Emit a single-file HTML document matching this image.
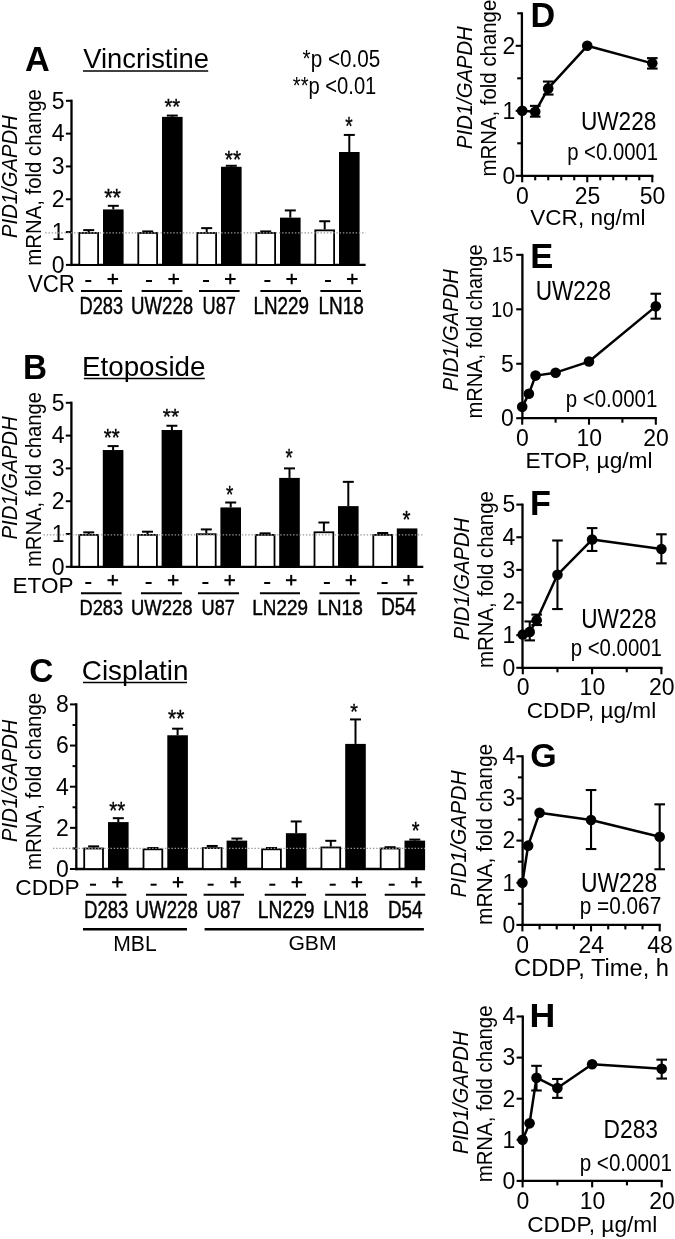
<!DOCTYPE html>
<html><head><meta charset="utf-8"><style>
html,body{margin:0;padding:0;background:#fff;}
svg{display:block;will-change:transform;}
text{font-family:"Liberation Sans",sans-serif;fill:#000;}
</style></head><body>
<svg width="675" height="1239" viewBox="0 0 675 1239">
<rect width="675" height="1239" fill="#fff"/>
<line x1="71.50" y1="99.65" x2="71.50" y2="266.05" stroke="#000" stroke-width="2.3"/>
<line x1="70.35" y1="264.90" x2="365.60" y2="264.90" stroke="#000" stroke-width="2.3"/>
<line x1="65.90" y1="264.90" x2="71.50" y2="264.90" stroke="#000" stroke-width="2.0"/>
<line x1="65.90" y1="232.08" x2="71.50" y2="232.08" stroke="#000" stroke-width="2.0"/>
<line x1="65.90" y1="199.26" x2="71.50" y2="199.26" stroke="#000" stroke-width="2.0"/>
<line x1="65.90" y1="166.44" x2="71.50" y2="166.44" stroke="#000" stroke-width="2.0"/>
<line x1="65.90" y1="133.62" x2="71.50" y2="133.62" stroke="#000" stroke-width="2.0"/>
<line x1="65.90" y1="100.80" x2="71.50" y2="100.80" stroke="#000" stroke-width="2.0"/>
<text x="64.60" y="272.70" font-size="23.00" text-anchor="end">0</text>
<text x="64.60" y="239.88" font-size="23.00" text-anchor="end">1</text>
<text x="64.60" y="207.06" font-size="23.00" text-anchor="end">2</text>
<text x="64.60" y="174.24" font-size="23.00" text-anchor="end">3</text>
<text x="64.60" y="141.42" font-size="23.00" text-anchor="end">4</text>
<text x="64.60" y="108.60" font-size="23.00" text-anchor="end">5</text>
<line x1="88.70" y1="230.11" x2="88.70" y2="232.08" stroke="#000" stroke-width="2.0"/>
<line x1="83.20" y1="230.11" x2="94.20" y2="230.11" stroke="#000" stroke-width="2.0"/>
<rect x="79.30" y="232.98" width="18.80" height="31.92" fill="#fff" stroke="#000" stroke-width="1.8"/>
<line x1="113.30" y1="205.82" x2="113.30" y2="209.43" stroke="#000" stroke-width="2.0"/>
<line x1="107.80" y1="205.82" x2="118.80" y2="205.82" stroke="#000" stroke-width="2.0"/>
<rect x="103.00" y="209.43" width="20.60" height="55.47" fill="#000"/>
<line x1="147.70" y1="231.42" x2="147.70" y2="232.08" stroke="#000" stroke-width="2.0"/>
<line x1="142.20" y1="231.42" x2="153.20" y2="231.42" stroke="#000" stroke-width="2.0"/>
<rect x="138.30" y="232.98" width="18.80" height="31.92" fill="#fff" stroke="#000" stroke-width="1.8"/>
<line x1="172.30" y1="115.57" x2="172.30" y2="116.88" stroke="#000" stroke-width="2.0"/>
<line x1="166.80" y1="115.57" x2="177.80" y2="115.57" stroke="#000" stroke-width="2.0"/>
<rect x="162.00" y="116.88" width="20.60" height="148.02" fill="#000"/>
<line x1="206.70" y1="228.14" x2="206.70" y2="232.08" stroke="#000" stroke-width="2.0"/>
<line x1="201.20" y1="228.14" x2="212.20" y2="228.14" stroke="#000" stroke-width="2.0"/>
<rect x="197.30" y="232.98" width="18.80" height="31.92" fill="#fff" stroke="#000" stroke-width="1.8"/>
<line x1="231.30" y1="165.78" x2="231.30" y2="166.77" stroke="#000" stroke-width="2.0"/>
<line x1="225.80" y1="165.78" x2="236.80" y2="165.78" stroke="#000" stroke-width="2.0"/>
<rect x="221.00" y="166.77" width="20.60" height="98.13" fill="#000"/>
<line x1="265.70" y1="231.42" x2="265.70" y2="232.08" stroke="#000" stroke-width="2.0"/>
<line x1="260.20" y1="231.42" x2="271.20" y2="231.42" stroke="#000" stroke-width="2.0"/>
<rect x="256.30" y="232.98" width="18.80" height="31.92" fill="#fff" stroke="#000" stroke-width="1.8"/>
<line x1="290.30" y1="210.42" x2="290.30" y2="217.64" stroke="#000" stroke-width="2.0"/>
<line x1="284.80" y1="210.42" x2="295.80" y2="210.42" stroke="#000" stroke-width="2.0"/>
<rect x="280.00" y="217.64" width="20.60" height="47.26" fill="#000"/>
<line x1="324.70" y1="221.25" x2="324.70" y2="229.45" stroke="#000" stroke-width="2.0"/>
<line x1="319.20" y1="221.25" x2="330.20" y2="221.25" stroke="#000" stroke-width="2.0"/>
<rect x="315.30" y="230.35" width="18.80" height="34.55" fill="#fff" stroke="#000" stroke-width="1.8"/>
<line x1="349.30" y1="134.93" x2="349.30" y2="152.00" stroke="#000" stroke-width="2.0"/>
<line x1="343.80" y1="134.93" x2="354.80" y2="134.93" stroke="#000" stroke-width="2.0"/>
<rect x="339.00" y="152.00" width="20.60" height="112.90" fill="#000"/>
<line x1="45.30" y1="232.88" x2="365.60" y2="232.88" stroke="#999" stroke-width="1.3" stroke-dasharray="1.4,1.8"/>
<rect x="85.30" y="280.00" width="6.00" height="2.00" fill="#000"/>
<rect x="146.00" y="280.00" width="6.00" height="2.00" fill="#000"/>
<rect x="203.00" y="280.00" width="6.00" height="2.00" fill="#000"/>
<rect x="264.40" y="280.00" width="6.00" height="2.00" fill="#000"/>
<rect x="325.00" y="280.00" width="6.00" height="2.00" fill="#000"/>
<rect x="107.50" y="278.00" width="10.60" height="2.00" fill="#000"/>
<rect x="111.80" y="273.70" width="2.00" height="10.60" fill="#000"/>
<rect x="168.40" y="278.00" width="10.60" height="2.00" fill="#000"/>
<rect x="172.70" y="273.70" width="2.00" height="10.60" fill="#000"/>
<rect x="225.00" y="278.00" width="10.60" height="2.00" fill="#000"/>
<rect x="229.30" y="273.70" width="2.00" height="10.60" fill="#000"/>
<rect x="286.40" y="278.00" width="10.60" height="2.00" fill="#000"/>
<rect x="290.70" y="273.70" width="2.00" height="10.60" fill="#000"/>
<rect x="347.00" y="278.00" width="10.60" height="2.00" fill="#000"/>
<rect x="351.30" y="273.70" width="2.00" height="10.60" fill="#000"/>
<line x1="71.40" y1="401.65" x2="71.40" y2="567.95" stroke="#000" stroke-width="2.3"/>
<line x1="70.25" y1="566.80" x2="423.30" y2="566.80" stroke="#000" stroke-width="2.3"/>
<line x1="65.80" y1="566.80" x2="71.40" y2="566.80" stroke="#000" stroke-width="2.0"/>
<line x1="65.80" y1="534.00" x2="71.40" y2="534.00" stroke="#000" stroke-width="2.0"/>
<line x1="65.80" y1="501.20" x2="71.40" y2="501.20" stroke="#000" stroke-width="2.0"/>
<line x1="65.80" y1="468.40" x2="71.40" y2="468.40" stroke="#000" stroke-width="2.0"/>
<line x1="65.80" y1="435.60" x2="71.40" y2="435.60" stroke="#000" stroke-width="2.0"/>
<line x1="65.80" y1="402.80" x2="71.40" y2="402.80" stroke="#000" stroke-width="2.0"/>
<text x="64.60" y="574.60" font-size="23.00" text-anchor="end">0</text>
<text x="64.60" y="541.80" font-size="23.00" text-anchor="end">1</text>
<text x="64.60" y="509.00" font-size="23.00" text-anchor="end">2</text>
<text x="64.60" y="476.20" font-size="23.00" text-anchor="end">3</text>
<text x="64.60" y="443.40" font-size="23.00" text-anchor="end">4</text>
<text x="64.60" y="410.60" font-size="23.00" text-anchor="end">5</text>
<line x1="88.70" y1="532.36" x2="88.70" y2="534.00" stroke="#000" stroke-width="2.0"/>
<line x1="83.20" y1="532.36" x2="94.20" y2="532.36" stroke="#000" stroke-width="2.0"/>
<rect x="79.30" y="534.90" width="18.80" height="31.90" fill="#fff" stroke="#000" stroke-width="1.8"/>
<line x1="113.10" y1="446.10" x2="113.10" y2="450.03" stroke="#000" stroke-width="2.0"/>
<line x1="107.60" y1="446.10" x2="118.60" y2="446.10" stroke="#000" stroke-width="2.0"/>
<rect x="102.80" y="450.03" width="20.60" height="116.77" fill="#000"/>
<line x1="147.50" y1="531.70" x2="147.50" y2="534.00" stroke="#000" stroke-width="2.0"/>
<line x1="142.00" y1="531.70" x2="153.00" y2="531.70" stroke="#000" stroke-width="2.0"/>
<rect x="138.10" y="534.90" width="18.80" height="31.90" fill="#fff" stroke="#000" stroke-width="1.8"/>
<line x1="171.90" y1="425.76" x2="171.90" y2="430.02" stroke="#000" stroke-width="2.0"/>
<line x1="166.40" y1="425.76" x2="177.40" y2="425.76" stroke="#000" stroke-width="2.0"/>
<rect x="161.60" y="430.02" width="20.60" height="136.78" fill="#000"/>
<line x1="206.30" y1="529.41" x2="206.30" y2="533.34" stroke="#000" stroke-width="2.0"/>
<line x1="200.80" y1="529.41" x2="211.80" y2="529.41" stroke="#000" stroke-width="2.0"/>
<rect x="196.90" y="534.24" width="18.80" height="32.56" fill="#fff" stroke="#000" stroke-width="1.8"/>
<line x1="230.70" y1="502.51" x2="230.70" y2="507.43" stroke="#000" stroke-width="2.0"/>
<line x1="225.20" y1="502.51" x2="236.20" y2="502.51" stroke="#000" stroke-width="2.0"/>
<rect x="220.40" y="507.43" width="20.60" height="59.37" fill="#000"/>
<line x1="265.10" y1="533.34" x2="265.10" y2="534.00" stroke="#000" stroke-width="2.0"/>
<line x1="259.60" y1="533.34" x2="270.60" y2="533.34" stroke="#000" stroke-width="2.0"/>
<rect x="255.70" y="534.90" width="18.80" height="31.90" fill="#fff" stroke="#000" stroke-width="1.8"/>
<line x1="289.50" y1="468.40" x2="289.50" y2="477.91" stroke="#000" stroke-width="2.0"/>
<line x1="284.00" y1="468.40" x2="295.00" y2="468.40" stroke="#000" stroke-width="2.0"/>
<rect x="279.20" y="477.91" width="20.60" height="88.89" fill="#000"/>
<line x1="323.90" y1="522.52" x2="323.90" y2="531.38" stroke="#000" stroke-width="2.0"/>
<line x1="318.40" y1="522.52" x2="329.40" y2="522.52" stroke="#000" stroke-width="2.0"/>
<rect x="314.50" y="532.28" width="18.80" height="34.52" fill="#fff" stroke="#000" stroke-width="1.8"/>
<line x1="348.30" y1="481.85" x2="348.30" y2="506.12" stroke="#000" stroke-width="2.0"/>
<line x1="342.80" y1="481.85" x2="353.80" y2="481.85" stroke="#000" stroke-width="2.0"/>
<rect x="338.00" y="506.12" width="20.60" height="60.68" fill="#000"/>
<line x1="382.70" y1="533.02" x2="382.70" y2="534.00" stroke="#000" stroke-width="2.0"/>
<line x1="377.20" y1="533.02" x2="388.20" y2="533.02" stroke="#000" stroke-width="2.0"/>
<rect x="373.30" y="534.90" width="18.80" height="31.90" fill="#fff" stroke="#000" stroke-width="1.8"/>
<rect x="396.80" y="528.42" width="20.60" height="38.38" fill="#000"/>
<line x1="43.50" y1="534.80" x2="423.30" y2="534.80" stroke="#999" stroke-width="1.3" stroke-dasharray="1.4,1.8"/>
<rect x="85.30" y="582.00" width="6.00" height="2.00" fill="#000"/>
<rect x="145.60" y="582.00" width="6.00" height="2.00" fill="#000"/>
<rect x="202.40" y="582.00" width="6.00" height="2.00" fill="#000"/>
<rect x="264.20" y="582.00" width="6.00" height="2.00" fill="#000"/>
<rect x="323.90" y="582.00" width="6.00" height="2.00" fill="#000"/>
<rect x="381.60" y="582.00" width="6.00" height="2.00" fill="#000"/>
<rect x="107.50" y="579.20" width="10.60" height="2.00" fill="#000"/>
<rect x="111.80" y="574.90" width="2.00" height="10.60" fill="#000"/>
<rect x="167.90" y="579.20" width="10.60" height="2.00" fill="#000"/>
<rect x="172.20" y="574.90" width="2.00" height="10.60" fill="#000"/>
<rect x="224.40" y="579.20" width="10.60" height="2.00" fill="#000"/>
<rect x="228.70" y="574.90" width="2.00" height="10.60" fill="#000"/>
<rect x="285.90" y="579.20" width="10.60" height="2.00" fill="#000"/>
<rect x="290.20" y="574.90" width="2.00" height="10.60" fill="#000"/>
<rect x="345.60" y="579.20" width="10.60" height="2.00" fill="#000"/>
<rect x="349.90" y="574.90" width="2.00" height="10.60" fill="#000"/>
<rect x="403.20" y="579.20" width="10.60" height="2.00" fill="#000"/>
<rect x="407.50" y="574.90" width="2.00" height="10.60" fill="#000"/>
<line x1="76.30" y1="703.25" x2="76.30" y2="870.15" stroke="#000" stroke-width="2.3"/>
<line x1="75.15" y1="869.00" x2="425.00" y2="869.00" stroke="#000" stroke-width="2.3"/>
<line x1="70.00" y1="869.00" x2="76.30" y2="869.00" stroke="#000" stroke-width="2.0"/>
<line x1="70.00" y1="827.85" x2="76.30" y2="827.85" stroke="#000" stroke-width="2.0"/>
<line x1="70.00" y1="786.70" x2="76.30" y2="786.70" stroke="#000" stroke-width="2.0"/>
<line x1="70.00" y1="745.55" x2="76.30" y2="745.55" stroke="#000" stroke-width="2.0"/>
<line x1="70.00" y1="704.40" x2="76.30" y2="704.40" stroke="#000" stroke-width="2.0"/>
<line x1="72.52" y1="848.42" x2="76.30" y2="848.42" stroke="#000" stroke-width="2.0"/>
<line x1="72.52" y1="807.27" x2="76.30" y2="807.27" stroke="#000" stroke-width="2.0"/>
<line x1="72.52" y1="766.12" x2="76.30" y2="766.12" stroke="#000" stroke-width="2.0"/>
<line x1="72.52" y1="724.98" x2="76.30" y2="724.98" stroke="#000" stroke-width="2.0"/>
<text x="68.80" y="876.80" font-size="23.00" text-anchor="end">0</text>
<text x="68.80" y="835.65" font-size="23.00" text-anchor="end">2</text>
<text x="68.80" y="794.50" font-size="23.00" text-anchor="end">4</text>
<text x="68.80" y="753.35" font-size="23.00" text-anchor="end">6</text>
<text x="68.80" y="712.20" font-size="23.00" text-anchor="end">8</text>
<line x1="93.60" y1="846.37" x2="93.60" y2="847.60" stroke="#000" stroke-width="2.0"/>
<line x1="88.10" y1="846.37" x2="99.10" y2="846.37" stroke="#000" stroke-width="2.0"/>
<rect x="84.20" y="848.50" width="18.80" height="20.50" fill="#fff" stroke="#000" stroke-width="1.8"/>
<line x1="118.30" y1="818.18" x2="118.30" y2="822.09" stroke="#000" stroke-width="2.0"/>
<line x1="112.80" y1="818.18" x2="123.80" y2="818.18" stroke="#000" stroke-width="2.0"/>
<rect x="108.00" y="822.09" width="20.60" height="46.91" fill="#000"/>
<line x1="152.90" y1="848.01" x2="152.90" y2="848.42" stroke="#000" stroke-width="2.0"/>
<line x1="147.40" y1="848.01" x2="158.40" y2="848.01" stroke="#000" stroke-width="2.0"/>
<rect x="143.50" y="849.32" width="18.80" height="19.68" fill="#fff" stroke="#000" stroke-width="1.8"/>
<line x1="177.60" y1="728.68" x2="177.60" y2="735.26" stroke="#000" stroke-width="2.0"/>
<line x1="172.10" y1="728.68" x2="183.10" y2="728.68" stroke="#000" stroke-width="2.0"/>
<rect x="167.30" y="735.26" width="20.60" height="133.74" fill="#000"/>
<line x1="212.20" y1="845.96" x2="212.20" y2="847.19" stroke="#000" stroke-width="2.0"/>
<line x1="206.70" y1="845.96" x2="217.70" y2="845.96" stroke="#000" stroke-width="2.0"/>
<rect x="202.80" y="848.09" width="18.80" height="20.91" fill="#fff" stroke="#000" stroke-width="1.8"/>
<line x1="236.90" y1="838.55" x2="236.90" y2="840.61" stroke="#000" stroke-width="2.0"/>
<line x1="231.40" y1="838.55" x2="242.40" y2="838.55" stroke="#000" stroke-width="2.0"/>
<rect x="226.60" y="840.61" width="20.60" height="28.39" fill="#000"/>
<line x1="271.50" y1="848.01" x2="271.50" y2="848.42" stroke="#000" stroke-width="2.0"/>
<line x1="266.00" y1="848.01" x2="277.00" y2="848.01" stroke="#000" stroke-width="2.0"/>
<rect x="262.10" y="849.32" width="18.80" height="19.68" fill="#fff" stroke="#000" stroke-width="1.8"/>
<line x1="296.20" y1="821.47" x2="296.20" y2="833.20" stroke="#000" stroke-width="2.0"/>
<line x1="290.70" y1="821.47" x2="301.70" y2="821.47" stroke="#000" stroke-width="2.0"/>
<rect x="285.90" y="833.20" width="20.60" height="35.80" fill="#000"/>
<line x1="330.80" y1="840.81" x2="330.80" y2="846.57" stroke="#000" stroke-width="2.0"/>
<line x1="325.30" y1="840.81" x2="336.30" y2="840.81" stroke="#000" stroke-width="2.0"/>
<rect x="321.40" y="847.47" width="18.80" height="21.53" fill="#fff" stroke="#000" stroke-width="1.8"/>
<line x1="355.50" y1="719.42" x2="355.50" y2="743.90" stroke="#000" stroke-width="2.0"/>
<line x1="350.00" y1="719.42" x2="361.00" y2="719.42" stroke="#000" stroke-width="2.0"/>
<rect x="345.20" y="743.90" width="20.60" height="125.10" fill="#000"/>
<line x1="390.10" y1="847.19" x2="390.10" y2="847.60" stroke="#000" stroke-width="2.0"/>
<line x1="384.60" y1="847.19" x2="395.60" y2="847.19" stroke="#000" stroke-width="2.0"/>
<rect x="380.70" y="848.50" width="18.80" height="20.50" fill="#fff" stroke="#000" stroke-width="1.8"/>
<line x1="414.80" y1="839.58" x2="414.80" y2="840.61" stroke="#000" stroke-width="2.0"/>
<line x1="409.30" y1="839.58" x2="420.30" y2="839.58" stroke="#000" stroke-width="2.0"/>
<rect x="404.50" y="840.61" width="20.60" height="28.39" fill="#000"/>
<line x1="53.00" y1="848.30" x2="425.00" y2="848.30" stroke="#999" stroke-width="1.3" stroke-dasharray="1.4,1.8"/>
<rect x="90.00" y="883.70" width="6.00" height="2.00" fill="#000"/>
<rect x="150.60" y="883.70" width="6.00" height="2.00" fill="#000"/>
<rect x="207.60" y="883.70" width="6.00" height="2.00" fill="#000"/>
<rect x="269.30" y="883.70" width="6.00" height="2.00" fill="#000"/>
<rect x="329.70" y="883.70" width="6.00" height="2.00" fill="#000"/>
<rect x="388.70" y="883.70" width="6.00" height="2.00" fill="#000"/>
<rect x="112.10" y="881.20" width="10.60" height="2.00" fill="#000"/>
<rect x="116.40" y="876.90" width="2.00" height="10.60" fill="#000"/>
<rect x="172.70" y="881.20" width="10.60" height="2.00" fill="#000"/>
<rect x="177.00" y="876.90" width="2.00" height="10.60" fill="#000"/>
<rect x="230.20" y="881.20" width="10.60" height="2.00" fill="#000"/>
<rect x="234.50" y="876.90" width="2.00" height="10.60" fill="#000"/>
<rect x="291.60" y="881.20" width="10.60" height="2.00" fill="#000"/>
<rect x="295.90" y="876.90" width="2.00" height="10.60" fill="#000"/>
<rect x="351.60" y="881.20" width="10.60" height="2.00" fill="#000"/>
<rect x="355.90" y="876.90" width="2.00" height="10.60" fill="#000"/>
<rect x="411.10" y="881.20" width="10.60" height="2.00" fill="#000"/>
<rect x="415.40" y="876.90" width="2.00" height="10.60" fill="#000"/>
<text transform="translate(25.11,71.00) scale(0.9601,1)" font-size="35.76" font-weight="bold">A</text>
<text transform="translate(83.19,67.73) scale(1.0204,1)" font-size="26.84">Vincristine</text>
<line x1="83.00" y1="70.90" x2="208.20" y2="70.90" stroke="#000" stroke-width="1.5"/>
<text transform="translate(302.57,67.48) scale(0.8420,1)" font-size="24.61">*p &lt;0.05</text>
<text transform="translate(292.78,94.45) scale(0.8311,1)" font-size="24.28">**p &lt;0.01</text>
<text transform="translate(16.90,237.91) rotate(-90) scale(0.9502,1)" font-size="21.30" font-style="italic">PID1/GAPDH</text>
<text transform="translate(41.10,265.64) rotate(-90) scale(0.9560,1)" font-size="21.30">mRNA, fold change</text>
<text transform="translate(27.91,291.76) scale(0.9291,1)" font-size="24.01">VCR</text>
<text transform="translate(79.50,313.76) scale(0.7616,1)" font-size="24.01" stroke="#000" stroke-width="0.45">D283</text>
<text transform="translate(130.94,313.76) scale(0.7780,1)" font-size="24.01" stroke="#000" stroke-width="0.45">UW228</text>
<text transform="translate(202.58,313.76) scale(0.7568,1)" font-size="24.01" stroke="#000" stroke-width="0.45">U87</text>
<text transform="translate(253.46,313.76) scale(0.7838,1)" font-size="24.01" stroke="#000" stroke-width="0.45">LN229</text>
<text transform="translate(318.44,313.76) scale(0.7910,1)" font-size="24.01" stroke="#000" stroke-width="0.45">LN18</text>
<line x1="81.00" y1="291.00" x2="122.00" y2="291.00" stroke="#000" stroke-width="2.0"/>
<line x1="141.60" y1="291.00" x2="182.40" y2="291.00" stroke="#000" stroke-width="2.0"/>
<line x1="199.00" y1="291.00" x2="239.60" y2="291.00" stroke="#000" stroke-width="2.0"/>
<line x1="260.40" y1="291.00" x2="301.00" y2="291.00" stroke="#000" stroke-width="2.0"/>
<line x1="320.40" y1="291.00" x2="361.00" y2="291.00" stroke="#000" stroke-width="2.0"/>
<text transform="translate(104.15,205.83) scale(0.9379,1)" font-size="23.01" stroke="#000" stroke-width="0.35">**</text>
<text transform="translate(164.48,114.25) scale(0.9135,1)" font-size="22.16" stroke="#000" stroke-width="0.35">**</text>
<text transform="translate(224.87,168.02) scale(0.8763,1)" font-size="23.86" stroke="#000" stroke-width="0.35">**</text>
<text transform="translate(345.29,134.50) scale(0.7555,1)" font-size="25.28" stroke="#000" stroke-width="0.35">*</text>
<text transform="translate(23.00,378.80) scale(0.9307,1)" font-size="35.76" font-weight="bold">B</text>
<text transform="translate(81.92,376.02) scale(1.0368,1)" font-size="26.82">Etoposide</text>
<line x1="83.80" y1="378.60" x2="204.80" y2="378.60" stroke="#000" stroke-width="1.5"/>
<text transform="translate(16.90,539.51) rotate(-90) scale(0.9549,1)" font-size="21.30" font-style="italic">PID1/GAPDH</text>
<text transform="translate(41.10,566.93) rotate(-90) scale(0.9472,1)" font-size="21.30">mRNA, fold change</text>
<text transform="translate(12.55,592.78) scale(1.0242,1)" font-size="22.03">ETOP</text>
<text transform="translate(79.50,615.17) scale(0.7992,1)" font-size="22.88" stroke="#000" stroke-width="0.45">D283</text>
<text transform="translate(130.96,615.17) scale(0.8055,1)" font-size="22.88" stroke="#000" stroke-width="0.45">UW228</text>
<text transform="translate(201.58,615.17) scale(0.7941,1)" font-size="22.88" stroke="#000" stroke-width="0.45">U87</text>
<text transform="translate(252.35,615.17) scale(0.8241,1)" font-size="22.88" stroke="#000" stroke-width="0.45">LN229</text>
<text transform="translate(317.13,615.17) scale(0.8359,1)" font-size="22.88" stroke="#000" stroke-width="0.45">LN18</text>
<text transform="translate(381.15,615.17) scale(0.8132,1)" font-size="23.21" stroke="#000" stroke-width="0.45">D54</text>
<line x1="81.00" y1="593.30" x2="121.60" y2="593.30" stroke="#000" stroke-width="2.0"/>
<line x1="141.00" y1="593.30" x2="182.00" y2="593.30" stroke="#000" stroke-width="2.0"/>
<line x1="198.00" y1="593.30" x2="239.00" y2="593.30" stroke="#000" stroke-width="2.0"/>
<line x1="259.90" y1="593.30" x2="300.00" y2="593.30" stroke="#000" stroke-width="2.0"/>
<line x1="319.50" y1="593.30" x2="359.70" y2="593.30" stroke="#000" stroke-width="2.0"/>
<line x1="377.00" y1="593.30" x2="417.20" y2="593.30" stroke="#000" stroke-width="2.0"/>
<text transform="translate(103.87,445.63) scale(0.8746,1)" font-size="23.30" stroke="#000" stroke-width="0.35">**</text>
<text transform="translate(162.77,424.45) scale(0.9437,1)" font-size="22.16" stroke="#000" stroke-width="0.35">**</text>
<text transform="translate(226.00,503.00) scale(0.7615,1)" font-size="24.72" stroke="#000" stroke-width="0.35">*</text>
<text transform="translate(285.40,466.02) scale(0.7769,1)" font-size="23.86" stroke="#000" stroke-width="0.35">*</text>
<text transform="translate(402.57,527.73) scale(0.8911,1)" font-size="23.01" stroke="#000" stroke-width="0.35">*</text>
<text transform="translate(29.30,682.17) scale(1.0204,1)" font-size="32.77" font-weight="bold">C</text>
<text transform="translate(81.81,680.22) scale(1.0012,1)" font-size="27.79">Cisplatin</text>
<line x1="83.00" y1="682.50" x2="187.00" y2="682.50" stroke="#000" stroke-width="1.5"/>
<text transform="translate(16.90,841.91) rotate(-90) scale(0.9486,1)" font-size="21.30" font-style="italic">PID1/GAPDH</text>
<text transform="translate(41.10,869.95) rotate(-90) scale(0.9593,1)" font-size="21.30">mRNA, fold change</text>
<text transform="translate(15.26,895.17) scale(1.0049,1)" font-size="22.60">CDDP</text>
<text transform="translate(84.08,917.57) scale(0.8058,1)" font-size="23.02" stroke="#000" stroke-width="0.45">D283</text>
<text transform="translate(135.54,917.57) scale(0.8114,1)" font-size="23.02" stroke="#000" stroke-width="0.45">UW228</text>
<text transform="translate(206.54,917.57) scale(0.8147,1)" font-size="23.02" stroke="#000" stroke-width="0.45">U87</text>
<text transform="translate(257.72,917.57) scale(0.8360,1)" font-size="23.02" stroke="#000" stroke-width="0.45">LN229</text>
<text transform="translate(323.14,917.57) scale(0.8288,1)" font-size="23.02" stroke="#000" stroke-width="0.45">LN18</text>
<text transform="translate(387.95,917.57) scale(0.8082,1)" font-size="23.35" stroke="#000" stroke-width="0.45">D54</text>
<line x1="86.00" y1="894.70" x2="126.40" y2="894.70" stroke="#000" stroke-width="2.0"/>
<line x1="146.00" y1="894.70" x2="187.00" y2="894.70" stroke="#000" stroke-width="2.0"/>
<line x1="203.60" y1="894.70" x2="244.00" y2="894.70" stroke="#000" stroke-width="2.0"/>
<line x1="264.70" y1="894.70" x2="306.00" y2="894.70" stroke="#000" stroke-width="2.0"/>
<line x1="325.20" y1="894.70" x2="366.00" y2="894.70" stroke="#000" stroke-width="2.0"/>
<line x1="384.70" y1="894.70" x2="425.20" y2="894.70" stroke="#000" stroke-width="2.0"/>
<text transform="translate(109.27,818.83) scale(0.8913,1)" font-size="23.01" stroke="#000" stroke-width="0.35">**</text>
<text transform="translate(168.06,727.13) scale(0.9034,1)" font-size="23.30" stroke="#000" stroke-width="0.35">**</text>
<text transform="translate(350.19,718.84) scale(0.8652,1)" font-size="22.73" stroke="#000" stroke-width="0.35">*</text>
<text transform="translate(411.68,838.92) scale(0.8458,1)" font-size="23.58" stroke="#000" stroke-width="0.35">*</text>
<line x1="83.00" y1="929.20" x2="187.00" y2="929.20" stroke="#000" stroke-width="2.4"/>
<line x1="204.60" y1="929.20" x2="423.90" y2="929.20" stroke="#000" stroke-width="2.4"/>
<text transform="translate(113.27,950.60) scale(0.9959,1)" font-size="21.22">MBL</text>
<text transform="translate(288.44,950.40) scale(1.0609,1)" font-size="19.92">GBM</text>
<line x1="521.90" y1="12.30" x2="521.90" y2="176.95" stroke="#000" stroke-width="2.3"/>
<line x1="520.75" y1="175.80" x2="653.40" y2="175.80" stroke="#000" stroke-width="2.3"/>
<line x1="515.70" y1="175.80" x2="521.90" y2="175.80" stroke="#000" stroke-width="2.1"/>
<line x1="515.70" y1="110.80" x2="521.90" y2="110.80" stroke="#000" stroke-width="2.1"/>
<line x1="515.70" y1="45.80" x2="521.90" y2="45.80" stroke="#000" stroke-width="2.1"/>
<line x1="517.20" y1="143.30" x2="521.90" y2="143.30" stroke="#000" stroke-width="2.1"/>
<line x1="517.20" y1="78.30" x2="521.90" y2="78.30" stroke="#000" stroke-width="2.1"/>
<line x1="517.20" y1="13.30" x2="521.90" y2="13.30" stroke="#000" stroke-width="2.1"/>
<line x1="522.20" y1="175.80" x2="522.20" y2="182.30" stroke="#000" stroke-width="2.1"/>
<line x1="587.25" y1="175.80" x2="587.25" y2="182.30" stroke="#000" stroke-width="2.1"/>
<line x1="652.30" y1="175.80" x2="652.30" y2="182.30" stroke="#000" stroke-width="2.1"/>
<line x1="535.21" y1="175.80" x2="535.21" y2="180.30" stroke="#000" stroke-width="2.1"/>
<line x1="548.22" y1="175.80" x2="548.22" y2="180.30" stroke="#000" stroke-width="2.1"/>
<line x1="561.23" y1="175.80" x2="561.23" y2="180.30" stroke="#000" stroke-width="2.1"/>
<line x1="574.24" y1="175.80" x2="574.24" y2="180.30" stroke="#000" stroke-width="2.1"/>
<line x1="600.26" y1="175.80" x2="600.26" y2="180.30" stroke="#000" stroke-width="2.1"/>
<line x1="613.27" y1="175.80" x2="613.27" y2="180.30" stroke="#000" stroke-width="2.1"/>
<line x1="626.28" y1="175.80" x2="626.28" y2="180.30" stroke="#000" stroke-width="2.1"/>
<line x1="639.29" y1="175.80" x2="639.29" y2="180.30" stroke="#000" stroke-width="2.1"/>
<text transform="translate(515.30,183.60) scale(1.0,1)" font-size="23.00" text-anchor="end">0</text>
<text transform="translate(515.30,118.60) scale(1.0,1)" font-size="23.00" text-anchor="end">1</text>
<text transform="translate(515.30,53.60) scale(1.0,1)" font-size="23.00" text-anchor="end">2</text>
<text transform="translate(522.50,203.50) scale(1.0,1)" font-size="23.00" text-anchor="middle">0</text>
<text transform="translate(587.55,203.50) scale(1.0,1)" font-size="23.00" text-anchor="middle">25</text>
<text transform="translate(652.60,203.50) scale(1.0,1)" font-size="23.00" text-anchor="middle">50</text>
<polyline points="522.20,110.80 535.21,111.78 548.22,88.38 587.25,45.80 652.30,63.35" fill="none" stroke="#000" stroke-width="2.5" stroke-linejoin="round"/>
<line x1="535.21" y1="116.65" x2="535.21" y2="105.86" stroke="#000" stroke-width="2.1"/>
<line x1="529.91" y1="116.65" x2="540.51" y2="116.65" stroke="#000" stroke-width="2.1"/>
<line x1="529.91" y1="105.86" x2="540.51" y2="105.86" stroke="#000" stroke-width="2.1"/>
<line x1="548.22" y1="94.55" x2="548.22" y2="81.55" stroke="#000" stroke-width="2.1"/>
<line x1="542.92" y1="94.55" x2="553.52" y2="94.55" stroke="#000" stroke-width="2.1"/>
<line x1="542.92" y1="81.55" x2="553.52" y2="81.55" stroke="#000" stroke-width="2.1"/>
<line x1="652.30" y1="68.55" x2="652.30" y2="58.15" stroke="#000" stroke-width="2.1"/>
<line x1="647.00" y1="68.55" x2="657.60" y2="68.55" stroke="#000" stroke-width="2.1"/>
<line x1="647.00" y1="58.15" x2="657.60" y2="58.15" stroke="#000" stroke-width="2.1"/>
<circle cx="522.20" cy="110.80" r="5.3" fill="#000"/>
<circle cx="535.21" cy="111.78" r="5.3" fill="#000"/>
<circle cx="548.22" cy="88.38" r="5.3" fill="#000"/>
<circle cx="587.25" cy="45.80" r="5.3" fill="#000"/>
<circle cx="652.30" cy="63.35" r="5.3" fill="#000"/>
<line x1="522.40" y1="253.85" x2="522.40" y2="419.35" stroke="#000" stroke-width="2.3"/>
<line x1="521.25" y1="418.20" x2="656.90" y2="418.20" stroke="#000" stroke-width="2.3"/>
<line x1="516.20" y1="418.20" x2="522.40" y2="418.20" stroke="#000" stroke-width="2.1"/>
<line x1="516.20" y1="363.75" x2="522.40" y2="363.75" stroke="#000" stroke-width="2.1"/>
<line x1="516.20" y1="309.30" x2="522.40" y2="309.30" stroke="#000" stroke-width="2.1"/>
<line x1="516.20" y1="254.85" x2="522.40" y2="254.85" stroke="#000" stroke-width="2.1"/>
<line x1="522.20" y1="418.20" x2="522.20" y2="424.70" stroke="#000" stroke-width="2.1"/>
<line x1="589.00" y1="418.20" x2="589.00" y2="424.70" stroke="#000" stroke-width="2.1"/>
<line x1="655.80" y1="418.20" x2="655.80" y2="424.70" stroke="#000" stroke-width="2.1"/>
<line x1="555.60" y1="418.20" x2="555.60" y2="422.70" stroke="#000" stroke-width="2.1"/>
<line x1="622.40" y1="418.20" x2="622.40" y2="422.70" stroke="#000" stroke-width="2.1"/>
<text transform="translate(513.90,426.00) scale(1.0,1)" font-size="23.00" text-anchor="end">0</text>
<text transform="translate(513.90,371.55) scale(1.0,1)" font-size="23.00" text-anchor="end">5</text>
<text transform="translate(522.50,445.70) scale(1.0,1)" font-size="23.00" text-anchor="middle">0</text>
<text transform="translate(589.30,445.70) scale(1.0,1)" font-size="23.00" text-anchor="middle">10</text>
<text transform="translate(656.10,445.70) scale(1.0,1)" font-size="23.00" text-anchor="middle">20</text>
<polyline points="522.20,406.87 528.88,393.81 535.56,375.62 555.60,372.68 589.00,361.57 655.80,306.36" fill="none" stroke="#000" stroke-width="2.5" stroke-linejoin="round"/>
<line x1="655.80" y1="318.67" x2="655.80" y2="293.73" stroke="#000" stroke-width="2.1"/>
<line x1="650.50" y1="318.67" x2="661.10" y2="318.67" stroke="#000" stroke-width="2.1"/>
<line x1="650.50" y1="293.73" x2="661.10" y2="293.73" stroke="#000" stroke-width="2.1"/>
<circle cx="522.20" cy="406.87" r="5.3" fill="#000"/>
<circle cx="528.88" cy="393.81" r="5.3" fill="#000"/>
<circle cx="535.56" cy="375.62" r="5.3" fill="#000"/>
<circle cx="555.60" cy="372.68" r="5.3" fill="#000"/>
<circle cx="589.00" cy="361.57" r="5.3" fill="#000"/>
<circle cx="655.80" cy="306.36" r="5.3" fill="#000"/>
<line x1="522.50" y1="503.60" x2="522.50" y2="668.95" stroke="#000" stroke-width="2.3"/>
<line x1="521.35" y1="667.80" x2="662.50" y2="667.80" stroke="#000" stroke-width="2.3"/>
<line x1="516.30" y1="667.80" x2="522.50" y2="667.80" stroke="#000" stroke-width="2.1"/>
<line x1="516.30" y1="635.16" x2="522.50" y2="635.16" stroke="#000" stroke-width="2.1"/>
<line x1="516.30" y1="602.52" x2="522.50" y2="602.52" stroke="#000" stroke-width="2.1"/>
<line x1="516.30" y1="569.88" x2="522.50" y2="569.88" stroke="#000" stroke-width="2.1"/>
<line x1="516.30" y1="537.24" x2="522.50" y2="537.24" stroke="#000" stroke-width="2.1"/>
<line x1="516.30" y1="504.60" x2="522.50" y2="504.60" stroke="#000" stroke-width="2.1"/>
<line x1="522.80" y1="667.80" x2="522.80" y2="674.30" stroke="#000" stroke-width="2.1"/>
<line x1="592.10" y1="667.80" x2="592.10" y2="674.30" stroke="#000" stroke-width="2.1"/>
<line x1="661.40" y1="667.80" x2="661.40" y2="674.30" stroke="#000" stroke-width="2.1"/>
<line x1="557.45" y1="667.80" x2="557.45" y2="672.30" stroke="#000" stroke-width="2.1"/>
<line x1="626.75" y1="667.80" x2="626.75" y2="672.30" stroke="#000" stroke-width="2.1"/>
<text transform="translate(515.20,675.60) scale(1.0,1)" font-size="23.00" text-anchor="end">0</text>
<text transform="translate(515.20,642.96) scale(1.0,1)" font-size="23.00" text-anchor="end">1</text>
<text transform="translate(515.20,610.32) scale(1.0,1)" font-size="23.00" text-anchor="end">2</text>
<text transform="translate(515.20,577.68) scale(1.0,1)" font-size="23.00" text-anchor="end">3</text>
<text transform="translate(515.20,545.04) scale(1.0,1)" font-size="23.00" text-anchor="end">4</text>
<text transform="translate(515.20,512.40) scale(1.0,1)" font-size="23.00" text-anchor="end">5</text>
<text transform="translate(523.10,695.40) scale(1.0,1)" font-size="23.00" text-anchor="middle">0</text>
<text transform="translate(592.40,695.40) scale(1.0,1)" font-size="23.00" text-anchor="middle">10</text>
<text transform="translate(661.70,695.40) scale(1.0,1)" font-size="23.00" text-anchor="middle">20</text>
<polyline points="522.80,634.51 529.73,631.90 536.66,620.15 557.45,574.78 592.10,539.52 661.40,548.99" fill="none" stroke="#000" stroke-width="2.5" stroke-linejoin="round"/>
<line x1="529.73" y1="640.38" x2="529.73" y2="621.45" stroke="#000" stroke-width="2.1"/>
<line x1="524.43" y1="640.38" x2="535.03" y2="640.38" stroke="#000" stroke-width="2.1"/>
<line x1="524.43" y1="621.45" x2="535.03" y2="621.45" stroke="#000" stroke-width="2.1"/>
<line x1="536.66" y1="625.04" x2="536.66" y2="614.60" stroke="#000" stroke-width="2.1"/>
<line x1="531.36" y1="625.04" x2="541.96" y2="625.04" stroke="#000" stroke-width="2.1"/>
<line x1="531.36" y1="614.60" x2="541.96" y2="614.60" stroke="#000" stroke-width="2.1"/>
<line x1="557.45" y1="609.05" x2="557.45" y2="540.50" stroke="#000" stroke-width="2.1"/>
<line x1="552.15" y1="609.05" x2="562.75" y2="609.05" stroke="#000" stroke-width="2.1"/>
<line x1="552.15" y1="540.50" x2="562.75" y2="540.50" stroke="#000" stroke-width="2.1"/>
<line x1="592.10" y1="550.95" x2="592.10" y2="528.10" stroke="#000" stroke-width="2.1"/>
<line x1="586.80" y1="550.95" x2="597.40" y2="550.95" stroke="#000" stroke-width="2.1"/>
<line x1="586.80" y1="528.10" x2="597.40" y2="528.10" stroke="#000" stroke-width="2.1"/>
<line x1="661.40" y1="563.35" x2="661.40" y2="534.30" stroke="#000" stroke-width="2.1"/>
<line x1="656.10" y1="563.35" x2="666.70" y2="563.35" stroke="#000" stroke-width="2.1"/>
<line x1="656.10" y1="534.30" x2="666.70" y2="534.30" stroke="#000" stroke-width="2.1"/>
<circle cx="522.80" cy="634.51" r="5.3" fill="#000"/>
<circle cx="529.73" cy="631.90" r="5.3" fill="#000"/>
<circle cx="536.66" cy="620.15" r="5.3" fill="#000"/>
<circle cx="557.45" cy="574.78" r="5.3" fill="#000"/>
<circle cx="592.10" cy="539.52" r="5.3" fill="#000"/>
<circle cx="661.40" cy="548.99" r="5.3" fill="#000"/>
<line x1="522.60" y1="755.30" x2="522.60" y2="926.05" stroke="#000" stroke-width="2.3"/>
<line x1="521.45" y1="924.90" x2="660.78" y2="924.90" stroke="#000" stroke-width="2.3"/>
<line x1="516.40" y1="924.90" x2="522.60" y2="924.90" stroke="#000" stroke-width="2.1"/>
<line x1="516.40" y1="882.75" x2="522.60" y2="882.75" stroke="#000" stroke-width="2.1"/>
<line x1="516.40" y1="840.60" x2="522.60" y2="840.60" stroke="#000" stroke-width="2.1"/>
<line x1="516.40" y1="798.45" x2="522.60" y2="798.45" stroke="#000" stroke-width="2.1"/>
<line x1="516.40" y1="756.30" x2="522.60" y2="756.30" stroke="#000" stroke-width="2.1"/>
<line x1="517.90" y1="903.82" x2="522.60" y2="903.82" stroke="#000" stroke-width="2.1"/>
<line x1="517.90" y1="861.67" x2="522.60" y2="861.67" stroke="#000" stroke-width="2.1"/>
<line x1="517.90" y1="819.52" x2="522.60" y2="819.52" stroke="#000" stroke-width="2.1"/>
<line x1="517.90" y1="777.38" x2="522.60" y2="777.38" stroke="#000" stroke-width="2.1"/>
<line x1="522.40" y1="924.90" x2="522.40" y2="931.40" stroke="#000" stroke-width="2.1"/>
<line x1="591.04" y1="924.90" x2="591.04" y2="931.40" stroke="#000" stroke-width="2.1"/>
<line x1="659.68" y1="924.90" x2="659.68" y2="931.40" stroke="#000" stroke-width="2.1"/>
<line x1="539.56" y1="924.90" x2="539.56" y2="929.40" stroke="#000" stroke-width="2.1"/>
<line x1="556.72" y1="924.90" x2="556.72" y2="929.40" stroke="#000" stroke-width="2.1"/>
<line x1="573.88" y1="924.90" x2="573.88" y2="929.40" stroke="#000" stroke-width="2.1"/>
<line x1="608.20" y1="924.90" x2="608.20" y2="929.40" stroke="#000" stroke-width="2.1"/>
<line x1="625.36" y1="924.90" x2="625.36" y2="929.40" stroke="#000" stroke-width="2.1"/>
<line x1="642.52" y1="924.90" x2="642.52" y2="929.40" stroke="#000" stroke-width="2.1"/>
<text transform="translate(515.20,932.70) scale(1.0,1)" font-size="23.00" text-anchor="end">0</text>
<text transform="translate(515.20,890.55) scale(1.0,1)" font-size="23.00" text-anchor="end">1</text>
<text transform="translate(515.20,848.40) scale(1.0,1)" font-size="23.00" text-anchor="end">2</text>
<text transform="translate(515.20,806.25) scale(1.0,1)" font-size="23.00" text-anchor="end">3</text>
<text transform="translate(515.20,764.10) scale(1.0,1)" font-size="23.00" text-anchor="end">4</text>
<text transform="translate(522.70,953.40) scale(1.0,1)" font-size="23.00" text-anchor="middle">0</text>
<text transform="translate(591.34,953.40) scale(1.0,1)" font-size="23.00" text-anchor="middle">24</text>
<text transform="translate(659.98,953.40) scale(1.0,1)" font-size="23.00" text-anchor="middle">48</text>
<polyline points="522.40,882.75 528.12,845.66 539.56,812.78 591.04,819.95 659.68,836.81" fill="none" stroke="#000" stroke-width="2.5" stroke-linejoin="round"/>
<line x1="591.04" y1="849.03" x2="591.04" y2="790.02" stroke="#000" stroke-width="2.1"/>
<line x1="585.74" y1="849.03" x2="596.34" y2="849.03" stroke="#000" stroke-width="2.1"/>
<line x1="585.74" y1="790.02" x2="596.34" y2="790.02" stroke="#000" stroke-width="2.1"/>
<line x1="659.68" y1="869.26" x2="659.68" y2="804.35" stroke="#000" stroke-width="2.1"/>
<line x1="654.38" y1="869.26" x2="664.98" y2="869.26" stroke="#000" stroke-width="2.1"/>
<line x1="654.38" y1="804.35" x2="664.98" y2="804.35" stroke="#000" stroke-width="2.1"/>
<circle cx="522.40" cy="882.75" r="5.3" fill="#000"/>
<circle cx="528.12" cy="845.66" r="5.3" fill="#000"/>
<circle cx="539.56" cy="812.78" r="5.3" fill="#000"/>
<circle cx="591.04" cy="819.95" r="5.3" fill="#000"/>
<circle cx="659.68" cy="836.81" r="5.3" fill="#000"/>
<line x1="522.80" y1="1015.50" x2="522.80" y2="1182.05" stroke="#000" stroke-width="2.3"/>
<line x1="521.65" y1="1180.90" x2="662.80" y2="1180.90" stroke="#000" stroke-width="2.3"/>
<line x1="516.60" y1="1180.90" x2="522.80" y2="1180.90" stroke="#000" stroke-width="2.1"/>
<line x1="516.60" y1="1139.80" x2="522.80" y2="1139.80" stroke="#000" stroke-width="2.1"/>
<line x1="516.60" y1="1098.70" x2="522.80" y2="1098.70" stroke="#000" stroke-width="2.1"/>
<line x1="516.60" y1="1057.60" x2="522.80" y2="1057.60" stroke="#000" stroke-width="2.1"/>
<line x1="516.60" y1="1016.50" x2="522.80" y2="1016.50" stroke="#000" stroke-width="2.1"/>
<line x1="522.60" y1="1180.90" x2="522.60" y2="1187.40" stroke="#000" stroke-width="2.1"/>
<line x1="592.15" y1="1180.90" x2="592.15" y2="1187.40" stroke="#000" stroke-width="2.1"/>
<line x1="661.70" y1="1180.90" x2="661.70" y2="1187.40" stroke="#000" stroke-width="2.1"/>
<line x1="557.38" y1="1180.90" x2="557.38" y2="1185.40" stroke="#000" stroke-width="2.1"/>
<line x1="626.93" y1="1180.90" x2="626.93" y2="1185.40" stroke="#000" stroke-width="2.1"/>
<text transform="translate(515.40,1188.70) scale(1.0,1)" font-size="23.00" text-anchor="end">0</text>
<text transform="translate(515.40,1147.60) scale(1.0,1)" font-size="23.00" text-anchor="end">1</text>
<text transform="translate(515.40,1106.50) scale(1.0,1)" font-size="23.00" text-anchor="end">2</text>
<text transform="translate(515.40,1065.40) scale(1.0,1)" font-size="23.00" text-anchor="end">3</text>
<text transform="translate(515.40,1024.30) scale(1.0,1)" font-size="23.00" text-anchor="end">4</text>
<text transform="translate(522.90,1208.50) scale(1.0,1)" font-size="23.00" text-anchor="middle">0</text>
<text transform="translate(592.45,1208.50) scale(1.0,1)" font-size="23.00" text-anchor="middle">10</text>
<text transform="translate(662.00,1208.50) scale(1.0,1)" font-size="23.00" text-anchor="middle">20</text>
<polyline points="522.60,1139.80 529.56,1123.36 536.51,1077.74 557.38,1088.01 592.15,1064.18 661.70,1068.70" fill="none" stroke="#000" stroke-width="2.5" stroke-linejoin="round"/>
<line x1="536.51" y1="1090.48" x2="536.51" y2="1065.82" stroke="#000" stroke-width="2.1"/>
<line x1="531.21" y1="1090.48" x2="541.81" y2="1090.48" stroke="#000" stroke-width="2.1"/>
<line x1="531.21" y1="1065.82" x2="541.81" y2="1065.82" stroke="#000" stroke-width="2.1"/>
<line x1="557.38" y1="1097.88" x2="557.38" y2="1078.97" stroke="#000" stroke-width="2.1"/>
<line x1="552.08" y1="1097.88" x2="562.67" y2="1097.88" stroke="#000" stroke-width="2.1"/>
<line x1="552.08" y1="1078.97" x2="562.67" y2="1078.97" stroke="#000" stroke-width="2.1"/>
<line x1="661.70" y1="1078.56" x2="661.70" y2="1059.66" stroke="#000" stroke-width="2.1"/>
<line x1="656.40" y1="1078.56" x2="667.00" y2="1078.56" stroke="#000" stroke-width="2.1"/>
<line x1="656.40" y1="1059.66" x2="667.00" y2="1059.66" stroke="#000" stroke-width="2.1"/>
<circle cx="522.60" cy="1139.80" r="5.3" fill="#000"/>
<circle cx="529.56" cy="1123.36" r="5.3" fill="#000"/>
<circle cx="536.51" cy="1077.74" r="5.3" fill="#000"/>
<circle cx="557.38" cy="1088.01" r="5.3" fill="#000"/>
<circle cx="592.15" cy="1064.18" r="5.3" fill="#000"/>
<circle cx="661.70" cy="1068.70" r="5.3" fill="#000"/>
<text transform="translate(530.54,26.50) scale(0.9565,1)" font-size="35.76" font-weight="bold">D</text>
<text transform="translate(580.93,130.34) scale(0.8709,1)" font-size="25.99">UW228</text>
<text transform="translate(567.20,159.60) scale(0.8438,1)" font-size="24.06">p &lt;0.0001</text>
<text transform="translate(530.31,225.14) scale(1.0499,1)" font-size="21.46">VCR, ng/ml</text>
<text transform="translate(471.60,148.91) rotate(-90) scale(0.9502,1)" font-size="21.30" font-style="italic">PID1/GAPDH</text>
<text transform="translate(495.60,176.55) rotate(-90) scale(0.9582,1)" font-size="21.30">mRNA, fold change</text>
<text transform="translate(530.32,267.60) scale(0.9654,1)" font-size="35.76" font-weight="bold">E</text>
<text transform="translate(491.72,262.38) scale(0.8904,1)" font-size="21.92">15</text>
<text transform="translate(491.06,317.18) scale(0.9366,1)" font-size="21.61">10</text>
<text transform="translate(535.64,299.72) scale(0.8001,1)" font-size="28.25">UW228</text>
<text transform="translate(565.69,407.04) scale(0.8593,1)" font-size="23.84">p &lt;0.0001</text>
<text transform="translate(525.44,468.18) scale(1.0231,1)" font-size="22.21">ETOP, µg/ml</text>
<text transform="translate(457.80,391.31) rotate(-90) scale(0.9471,1)" font-size="21.30" font-style="italic">PID1/GAPDH</text>
<text transform="translate(481.70,418.53) rotate(-90) scale(0.9434,1)" font-size="21.30">mRNA, fold change</text>
<text transform="translate(530.04,515.00) scale(1.0028,1)" font-size="34.16" font-weight="bold">F</text>
<text transform="translate(581.24,627.93) scale(0.8422,1)" font-size="26.84">UW228</text>
<text transform="translate(570.69,656.33) scale(0.8212,1)" font-size="24.83">p &lt;0.0001</text>
<text transform="translate(526.77,718.38) scale(1.0185,1)" font-size="22.21">CDDP, µg/ml</text>
<text transform="translate(468.80,640.31) rotate(-90) scale(0.9502,1)" font-size="21.30" font-style="italic">PID1/GAPDH</text>
<text transform="translate(492.70,667.95) rotate(-90) scale(0.9582,1)" font-size="21.30">mRNA, fold change</text>
<text transform="translate(530.17,767.07) scale(1.0280,1)" font-size="33.05" font-weight="bold">G</text>
<text transform="translate(580.92,891.93) scale(0.8527,1)" font-size="26.84">UW228</text>
<text transform="translate(579.67,914.15) scale(0.8570,1)" font-size="24.28">p =0.067</text>
<text transform="translate(514.01,976.27) scale(1.0006,1)" font-size="23.71">CDDP, Time, h</text>
<text transform="translate(466.40,897.43) rotate(-90) scale(0.9852,1)" font-size="21.30" font-style="italic">PID1/GAPDH</text>
<text transform="translate(491.50,924.98) rotate(-90) scale(0.9817,1)" font-size="21.30">mRNA, fold change</text>
<text transform="translate(529.54,1026.60) scale(1.0501,1)" font-size="34.01" font-weight="bold">H</text>
<text transform="translate(603.53,1138.14) scale(0.8770,1)" font-size="25.99">D283</text>
<text transform="translate(579.68,1171.04) scale(0.8650,1)" font-size="23.84">p &lt;0.0001</text>
<text transform="translate(527.16,1231.69) scale(1.0047,1)" font-size="22.64">CDDP, µg/ml</text>
<text transform="translate(467.80,1154.01) rotate(-90) scale(0.9502,1)" font-size="21.30" font-style="italic">PID1/GAPDH</text>
<text transform="translate(492.10,1182.35) rotate(-90) scale(0.9582,1)" font-size="21.30">mRNA, fold change</text>
</svg>
</body></html>
